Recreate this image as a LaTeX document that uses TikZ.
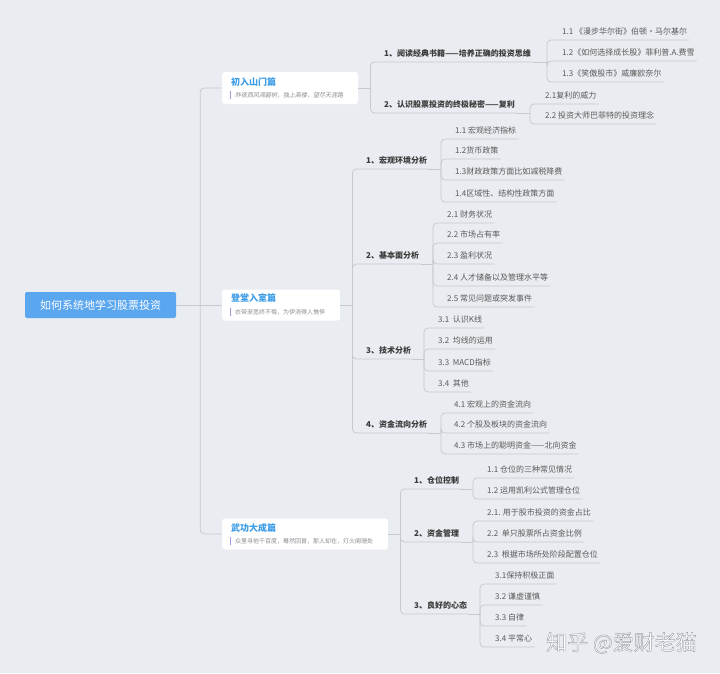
\documentclass[tikz,border=0pt]{standalone}
\usepackage{fontspec}
\setmainfont{Noto Sans CJK SC}
\newfontfamily\slantfont[FakeSlant=0.2]{Noto Sans CJK SC}
\definecolor{bgcolor}{HTML}{E9ECF0}
\definecolor{linecolor}{HTML}{C6CAD0}
\definecolor{rootblue}{HTML}{5AA6EF}
\definecolor{titleblue}{HTML}{3C9CE6}
\definecolor{subgray}{HTML}{8A8D92}
\definecolor{barpurple}{HTML}{A097DC}
\definecolor{topicgray}{HTML}{3A3A3A}
\definecolor{leafgray}{HTML}{5A5A5A}

\begin{document}
\begin{tikzpicture}[x=1pt,y=-1pt,
link/.style={draw=linecolor, line width=0.8pt, rounded corners=4pt},
rootnode/.style={fill=rootblue, rounded corners=2pt, text=white, font=\fontsize{11}{13}\selectfont, minimum width=151pt, minimum height=26pt, inner sep=0pt},
partbox/.style={fill=white, rounded corners=3pt, anchor=west, minimum height=31pt, inner sep=0pt},
parttitle/.style={anchor=west, inner sep=0pt, text=titleblue, font=\bfseries\fontsize{9}{10}\selectfont},
partsub/.style={anchor=west, inner xsep=5pt, inner ysep=1pt, fill=white, text=subgray, font=\fontsize{6}{7}\selectfont,
  path picture={\draw[barpurple, line width=1.2pt] ([xshift=0.6pt]path picture bounding box.north west) -- ([xshift=0.6pt]path picture bounding box.south west);}},
topic/.style={anchor=south west, inner xsep=2pt, inner ysep=4pt, text height=6.5pt, text depth=1.5pt, text=topicgray, font=\bfseries\fontsize{8}{9}\selectfont},
leaf/.style={topic, text=leafgray, font=\fontsize{8}{9}\selectfont}
]
\fill[bgcolor] (0,0) rectangle (720,673);
\useasboundingbox (0,0) rectangle (720,673);

\node[rootnode] (root) at (100.5,305) {如何系统地学习股票投资};

\node[partbox, minimum width=136pt, minimum height=32pt] (part_intro) at (222,88) {};
\node[parttitle] (intro_title) at ([xshift=9pt,yshift=-10pt]part_intro.north west) {初入山门篇};
\node[partsub] (intro_sub) at ([xshift=8pt,yshift=-23pt]part_intro.north west) {\slantfont 昨夜西风凋碧树，独上高楼，望尽天涯路};

\node[partbox, minimum width=118pt] (part_hall) at (222,305) {};
\node[parttitle] (hall_title) at ([xshift=9pt,yshift=-9pt]part_hall.north west) {登堂入室篇};
\node[partsub] (hall_sub) at ([xshift=8pt,yshift=-22.5pt]part_hall.north west) {衣带渐宽终不悔，为伊消得人憔悴};

\node[partbox, minimum width=166pt] (part_master) at (222,534) {};
\node[parttitle] (master_title) at ([xshift=9pt,yshift=-9.5pt]part_master.north west) {武功大成篇};
\node[partsub] (master_sub) at ([xshift=8pt,yshift=-22.5pt]part_master.north west) {众里寻他千百度，蓦然回首，那人却在，灯火阑珊处};

\draw[link] (root.east) -- ++(24,0) coordinate (root_fork);
\draw[link] (root_fork) |- (part_intro.west);
\draw[link] (root_fork) -- (part_hall.west);
\draw[link] (root_fork) |- (part_master.west);

% 初入山门篇
\node[topic] (intro_books) at (382,62) {1、阅读经典书籍——培养正确的投资思维};
\node[topic] (intro_compound) at (382,113) {2、认识股票投资的终极秘密——复利};
\node[leaf] (intro_books_1) at (560,40) {1.1 《漫步华尔街》伯顿·马尔基尔};
\node[leaf] (intro_books_2) at (560,61) {1.2《如何选择成长股》菲利普.A.费雪};
\node[leaf] (intro_books_3) at (560,82) {1.3《笑傲股市》威廉欧奈尔};
\node[leaf] (intro_compound_1) at (543,104) {2.1复利的威力};
\node[leaf] (intro_compound_2) at (543,124) {2.2 投资大师巴菲特的投资理念};

\draw[link] (part_intro.east) -- ++(12,0) coordinate (intro_fork);
\draw[link] (intro_fork) |- (intro_books.south east);
\draw[link] (intro_fork) |- (intro_compound.south east);
\coordinate (books_fork) at (547,62);
\draw[link] (intro_books.south east) -- (books_fork);
\foreach \i in {1,2,3} \draw[link] (books_fork) |- (intro_books_\i.south east);
\coordinate (compound_fork) at (530,113);
\draw[link] (intro_compound.south east) -- (compound_fork);
\foreach \i in {1,2} \draw[link] (compound_fork) |- (intro_compound_\i.south east);

% 登堂入室篇
\node[topic] (hall_macro) at (364,169) {1、宏观环境分析};
\node[topic] (hall_fund) at (364,264) {2、基本面分析};
\node[topic] (hall_tech) at (364,359) {3、技术分析};
\node[topic] (hall_flow) at (364,433) {4、资金流向分析};

\node[leaf] (hall_macro_1) at (453,139) {1.1 宏观经济指标};
\node[leaf] (hall_macro_2) at (453,159) {1.2货币政策};
\node[leaf] (hall_macro_3) at (453,180) {1.3财政政策方面比如减税降费};
\node[leaf] (hall_macro_4) at (453,202) {1.4区域性、结构性政策方面};

\node[leaf] (hall_fund_1) at (445,223) {2.1 财务状况};
\node[leaf] (hall_fund_2) at (445,243) {2.2 市场占有率};
\node[leaf] (hall_fund_3) at (445,264) {2.3 盈利状况};
\node[leaf] (hall_fund_4) at (445,286) {2.4 人才储备以及管理水平等};
\node[leaf] (hall_fund_5) at (445,307) {2.5 常见问题或突发事件};

\node[leaf] (hall_tech_1) at (436,328) {3.1\ \ 认识K线};
\node[leaf] (hall_tech_2) at (436,349) {3.2\ \ 均线的运用};
\node[leaf] (hall_tech_3) at (436,371) {3.3\ \ MACD指标};
\node[leaf] (hall_tech_4) at (436,392) {3.4\ \ 其他};

\node[leaf] (hall_flow_1) at (452,413) {4.1 宏观上的资金流向};
\node[leaf] (hall_flow_2) at (452,433) {4.2 个股及板块的资金流向};
\node[leaf] (hall_flow_3) at (452,454) {4.3 市场上的聪明资金——北向资金};

\draw[link] (part_hall.east) -- ++(12,0) coordinate (hall_fork);
\foreach \t in {macro,fund,tech,flow} \draw[link] (hall_fork) |- (hall_\t.south east);
\coordinate (macro_fork) at (441,169);
\draw[link] (hall_macro.south east) -- (macro_fork);
\foreach \i in {1,...,4} \draw[link] (macro_fork) |- (hall_macro_\i.south east);
\coordinate (fund_fork) at (433,264);
\draw[link] (hall_fund.south east) -- (fund_fork);
\foreach \i in {1,...,5} \draw[link] (fund_fork) |- (hall_fund_\i.south east);
\coordinate (tech_fork) at (424,359);
\draw[link] (hall_tech.south east) -- (tech_fork);
\foreach \i in {1,...,4} \draw[link] (tech_fork) |- (hall_tech_\i.south east);
\coordinate (flow_fork) at (441,433);
\draw[link] (hall_flow.south east) -- (flow_fork);
\foreach \i in {1,2,3} \draw[link] (flow_fork) |- (hall_flow_\i.south east);

% 武功大成篇
\node[topic] (master_pos) at (412,489) {1、仓位控制};
\node[topic] (master_money) at (412,542) {2、资金管理};
\node[topic] (master_mind) at (412,614) {3、良好的心态};

\node[leaf] (master_pos_1) at (485,478) {1.1 仓位的三种常见情况};
\node[leaf] (master_pos_2) at (485,499) {1.2 运用凯利公式管理仓位};

\node[leaf] (master_money_1) at (485,521) {2.1. 用于股市投资的资金占比};
\node[leaf] (master_money_2) at (485,542) {2.2\ \ 单只股票所占资金比例};
\node[leaf] (master_money_3) at (485,563) {2.3\ \ 根据市场所处阶段配置仓位};

\node[leaf] (master_mind_1) at (493,584) {3.1保持积极正面};
\node[leaf] (master_mind_2) at (493,605) {3.2 谦虚谨慎};
\node[leaf] (master_mind_3) at (493,626) {3.3 自律};
\node[leaf] (master_mind_4) at (493,647) {3.4 平常心};

\draw[link] (part_master.east) -- ++(12,0) coordinate (master_fork);
\foreach \t in {pos,money,mind} \draw[link] (master_fork) |- (master_\t.south east);
\coordinate (pos_fork) at (473,489);
\draw[link] (master_pos.south east) -- (pos_fork);
\foreach \i in {1,2} \draw[link] (pos_fork) |- (master_pos_\i.south east);
\coordinate (money_fork) at (473,542);
\draw[link] (master_money.south east) -- (money_fork);
\foreach \i in {1,2,3} \draw[link] (money_fork) |- (master_money_\i.south east);
\coordinate (mind_fork) at (480,614);
\draw[link] (master_mind.south east) -- (mind_fork);
\foreach \i in {1,...,4} \draw[link] (mind_fork) |- (master_mind_\i.south east);

\node[anchor=west, inner sep=0pt, text=white, font=\fontsize{21}{24}\selectfont] (watermark) at (546,643)
  {\special{pdf:code q 2 Tr 0.45 w 0.62 0.64 0.67 RG}知乎 @爱财老猫\special{pdf:code Q}};
\end{tikzpicture}
\end{document}
